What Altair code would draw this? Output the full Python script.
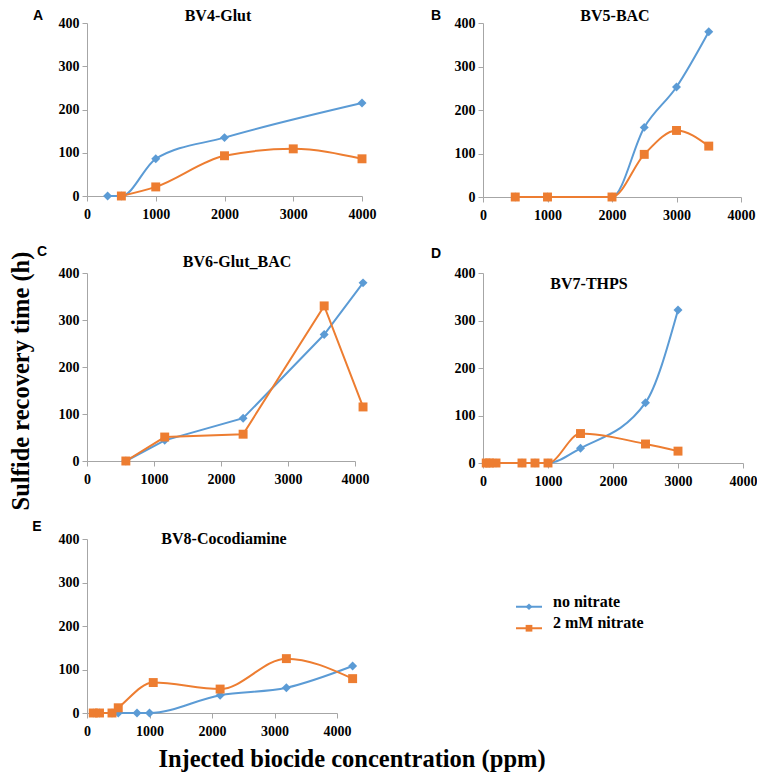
import altair as alt
import pandas as pd

SERIES = ["no nitrate", "2 mM nitrate"]
COLORS = ["#5B9BD5", "#ED7D31"]
SHAPES = ["diamond", "square"]
X_TICKS = [0, 1000, 2000, 3000, 4000]
Y_TICKS = [0, 100, 200, 300, 400]
SERIF = "Liberation Serif"
SANS = "Liberation Sans"

# Panel A: BV4-Glut
A_x_no = [300, 500, 1000, 2000, 4000]
A_y_no = [0, 0, 86, 135, 215]
A_x_ni = [500, 1000, 2000, 3000, 4000]
A_y_ni = [0, 21, 93, 109, 86]

# Panel B: BV5-BAC
B_x_no = [500, 1000, 2000, 2500, 3000, 3500]
B_y_no = [0, 0, 0, 160, 253, 380]
B_x_ni = [500, 1000, 2000, 2500, 3000, 3500]
B_y_ni = [0, 0, 0, 98, 153, 117]

# Panel C: BV6-Glut_BAC
C_x_no = [580, 1160, 2330, 3540, 4120]
C_y_no = [0, 44, 91, 269, 379]
C_x_ni = [580, 1160, 2330, 3540, 4120]
C_y_ni = [0, 51, 57, 330, 115]

# Panel D: BV7-THPS
D_x_no = [50, 100, 200, 600, 800, 1000, 1500, 2500, 3000]
D_y_no = [0, 0, 0, 0, 0, 0, 31, 127, 322]
D_x_ni = [50, 100, 200, 600, 800, 1000, 1500, 2500, 3000]
D_y_ni = [0, 0, 0, 0, 0, 0, 62, 40, 25]

# Panel E: BV8-Cocodiamine
E_x_no = [100, 200, 400, 500, 800, 1000, 2130, 3190, 4250]
E_y_no = [0, 0, 0, 0, 0, 0, 41, 58, 108]
E_x_ni = [100, 200, 400, 500, 1060, 2130, 3190, 4250]
E_y_ni = [0, 0, 0, 12, 70, 55, 125, 79]

Y_TITLE = "Sulfide recovery time (h)"
X_TITLE = "Injected biocide concentration (ppm)"

color_enc = alt.Color("series:N", scale=alt.Scale(domain=SERIES, range=COLORS), legend=None)
shape_enc = alt.Shape("series:N", scale=alt.Scale(domain=SERIES, range=SHAPES), legend=None)


def label(text, x, y, size, font, angle=0):
    return alt.Chart(pd.DataFrame({"t": [text]})).mark_text(
        font=font, fontWeight="bold", fontSize=size, color="black",
        align="center", baseline="middle", angle=angle
    ).encode(text="t:N", x=alt.value(x), y=alt.value(y))


def panel(xn, yn, xi, yi, w, h, title, tpos, letter, lpos, interp, extra=()):
    df = pd.DataFrame({
        "conc": xn + xi,
        "time": yn + yi,
        "series": [SERIES[0]] * len(xn) + [SERIES[1]] * len(xi),
    })
    x = alt.X("conc:Q", scale=alt.Scale(domain=[0, 4000], nice=False),
              axis=alt.Axis(values=X_TICKS, title=None, format="d", labelPadding=6))
    y = alt.Y("time:Q", scale=alt.Scale(domain=[0, 400], nice=False),
              axis=alt.Axis(values=Y_TICKS, title=None, format="d"))
    base = alt.Chart(df)
    line = base.mark_line(interpolate=interp, strokeWidth=2).encode(x=x, y=y, color=color_enc)
    pts = base.mark_point(filled=True, opacity=1, size=80).encode(
        x=x, y=y, color=color_enc, shape=shape_enc)
    ttl = label(title, tpos[0], tpos[1], 16, SERIF)
    let = label(letter, lpos[0], lpos[1], 14, SANS)
    return alt.layer(line, pts, ttl, let, *extra).properties(width=w, height=h)


pA = panel(A_x_no, A_y_no, A_x_ni, A_y_ni, 275, 173, "BV4-Glut", (131, -7), "A", (-49, -7), "monotone")
pB = panel(B_x_no, B_y_no, B_x_ni, B_y_ni, 258, 174, "BV5-BAC", (132, -7), "B", (-47, -7), "monotone")
pC = panel(C_x_no, C_y_no, C_x_ni, C_y_ni, 268, 188, "BV6-Glut_BAC", (150, -11), "C", (-45, -21), "linear",
           extra=(label(Y_TITLE, -65, 108, 24.5, SERIF, angle=270),))
pD = panel(D_x_no, D_y_no, D_x_ni, D_y_ni, 260, 190, "BV7-THPS", (106, 11), "D", (-47, -19), "monotone")
pE = panel(E_x_no, E_y_no, E_x_ni, E_y_ni, 250, 174, "BV8-Cocodiamine", (137, 0), "E", (-50, -12), "monotone",
           extra=(label(X_TITLE, 265, 221, 24.5, SERIF),))

leg_df = pd.DataFrame({"series": SERIES})
leg_y = alt.Y("series:N", scale=alt.Scale(domain=SERIES, range=[57, 100], padding=0), axis=None)
leg_base = alt.Chart(leg_df)
leg_line = leg_base.mark_rule(strokeWidth=2).encode(
    x=alt.value(33), x2=alt.value(59), y=leg_y, color=color_enc)
leg_pt = leg_base.mark_point(filled=True, opacity=1, size=45).encode(
    x=alt.value(46), y=leg_y, color=color_enc, shape=shape_enc)
leg_txt = leg_base.mark_text(font=SERIF, fontWeight="bold", fontSize=16, align="left",
                             baseline="middle", dy=-5, color="black").encode(
    x=alt.value(70), y=leg_y, text="series:N")
legend = alt.layer(leg_line, leg_pt, leg_txt).properties(width=200, height=174)

chart = alt.concat(
    pA, pB, pC, pD, pE, legend,
    columns=2,
    spacing={"row": 76, "column": 121},
    bounds="flush",
    align="each",
    padding={"left": 0, "top": 0, "right": 0, "bottom": 0},
    autosize=alt.AutoSizeParams(type="pad"),
).configure_view(stroke=None).configure_axis(
    grid=False,
    labelFont=SERIF,
    labelFontSize=14,
    labelFontWeight="bold",
    labelColor="black",
    labelFlush=False,
    labelOverlap=False,
    labelPadding=3,
    domainColor="#A6A6A6",
    tickColor="#A6A6A6",
    tickSize=5,
)

chart.save("out.html", embed_options={"renderer": "svg", "actions": False})
